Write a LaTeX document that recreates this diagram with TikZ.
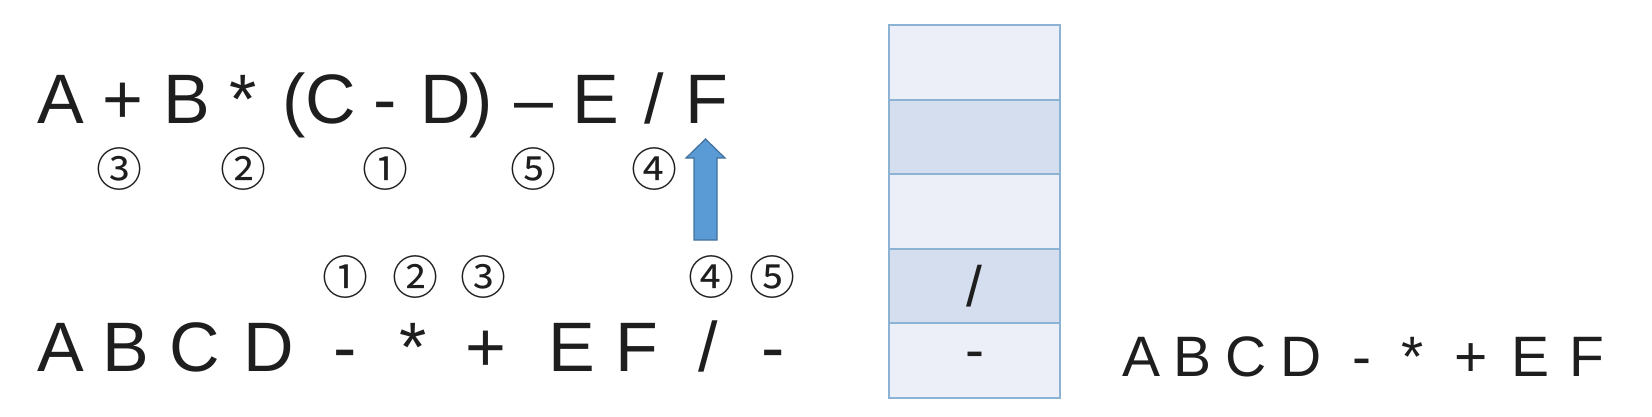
\documentclass[tikz,border=0pt]{standalone}
\usepackage{fontspec}
\newfontfamily\circfont{Noto Sans CJK SC}
\setmainfont{Liberation Sans}
\newfontfamily\arialfont{Liberation Sans}
\definecolor{cellLight}{RGB}{236,239,248}
\definecolor{cellDark}{RGB}{212,222,238}
\definecolor{cellEdge}{RGB}{140,178,212}
\definecolor{arrowFill}{RGB}{91,155,213}
\definecolor{arrowEdge}{RGB}{65,113,156}
\definecolor{ink}{RGB}{30,30,30}
\begin{document}
\begin{tikzpicture}[x=0.5pt, y=-0.5pt,
    big/.style={anchor=base, inner sep=0pt, text=ink, font=\arialfont\fontsize{35}{40}\selectfont},
    small/.style={anchor=base, inner sep=0pt, text=ink, font=\arialfont\fontsize{28.5}{32}\selectfont},
    circ/.style={inner sep=0pt, text=ink, font=\circfont\fontsize{23}{27}\selectfont},
    cell/.style={draw=cellEdge, line width=1pt, minimum width=85.5pt,
          minimum height=37.3pt, inner sep=0pt, text=ink,
          font=\arialfont\fontsize{28.5}{32}\selectfont}]
            \useasboundingbox (0,0) rectangle (1652,417);
            \foreach \ch/\x[count=\i] in {A/61, +/123, B/187, */243, {(}/294, C/331,
                -/385, D/446, {)}/481, –/534, E/596, {/}/654, F/707}{
                \node[big] (e\i) at (\x,123) {\ch};
            };
            \foreach \n/\x[count=\i] in {③/119, ②/243, ①/385, ⑤/533, ④/654}{
                \node[circ] (t\i) at (\x,169) {\n};
            };
            \foreach \n/\x[count=\i] in {①/345, ②/415, ③/483, ④/711, ⑤/772}{
                \node[circ] (b\i) at (\x,277) {\n};
            };
            \foreach \ch/\x[count=\i] in {A/61, B/126, C/195, D/269, -/345, */413,
                +/486, E/572, F/637, {/}/708, -/773}{
                \node[big] (p\i) at (\x,371) {\ch};
            };
            \filldraw[fill=arrowFill, draw=arrowEdge, line width=0.6pt]
                (694,240) -- (694,158) -- (686,158) -- (705.5,139) -- (725,158)
                -- (717,158) -- (717,240) -- cycle;
            \foreach \i[
                evaluate = \i as \cy using {25 + 74.6*(\i - 0.5)},
                evaluate = \i as \shade using {isodd(\i) ? "cellLight" : "cellDark"}
                ] in {1,...,5}{
                \node[cell, fill=\shade] (s\i) at (974.5,\cy) {};
            };
            \node[cell, draw=none, fill=none] at (s4) {/};
            \node[cell, draw=none, fill=none] at (s5) {-};
            \foreach \ch/\x[count=\i] in {A/1141, B/1192, C/1246, D/1301, -/1362,
                */1413, +/1471, E/1530, F/1587}{
                \node[small] (r\i) at (\x,376) {\ch};
            };
        \end{tikzpicture}
\end{document}
